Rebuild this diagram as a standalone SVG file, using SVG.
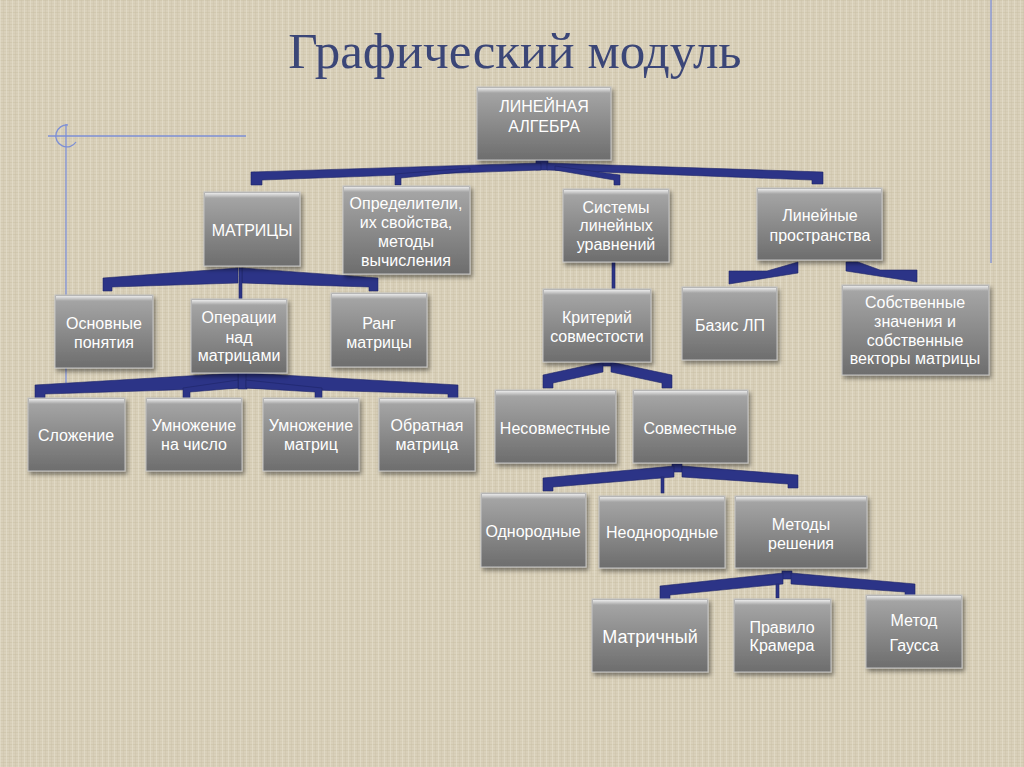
<svg xmlns="http://www.w3.org/2000/svg" width="1024" height="767" viewBox="0 0 1024 767">
<defs>
<pattern id="linen" width="6" height="6" patternUnits="userSpaceOnUse">
<rect width="6" height="6" fill="#d9d0ba"/>
<rect x="0" y="0" width="6" height="1" fill="#c9bea3" opacity="0.45"/>
<rect x="0" y="3" width="6" height="1" fill="#cfc5ab" opacity="0.35"/>
<rect x="0" y="0" width="1" height="6" fill="#e8e1cf" opacity="0.5"/>
<rect x="3" y="0" width="1" height="6" fill="#c8bda2" opacity="0.3"/>
</pattern>
<linearGradient id="gbox" x1="0" y1="0" x2="0" y2="1">
<stop offset="0" stop-color="#a9a9a9"/>
<stop offset="0.5" stop-color="#8b8b8b"/>
<stop offset="1" stop-color="#6d6d6d"/>
</linearGradient>
<linearGradient id="gbev" x1="0" y1="0" x2="0" y2="1">
<stop offset="0" stop-color="#ffffff" stop-opacity="0.75"/>
<stop offset="1" stop-color="#ffffff" stop-opacity="0"/>
</linearGradient>
<filter id="sh" x="-10%" y="-10%" width="130%" height="140%">
<feDropShadow dx="2" dy="3" stdDeviation="2" flood-color="#000" flood-opacity="0.45"/>
</filter>
<style>
.box{fill:url(#gbox);stroke:#c4c4c4;stroke-width:1;filter:url(#sh)}
.bev{fill:url(#gbev)}
.lbl{font-family:"Liberation Sans",Arial,sans-serif;font-size:16px;fill:#ffffff;text-anchor:middle}
.con{fill:#2c3487;stroke:#1f2568;stroke-width:0.6}
.deco{stroke:#7d8fd6;stroke-width:1.3;fill:none}
.title{font-family:"Liberation Serif","Times New Roman",serif;font-size:51px;fill:#3b4677;text-anchor:middle}
</style>
</defs>
<rect width="1024" height="767" fill="url(#linen)"/>

<g id="decor">
<line class="deco" x1="48" y1="136" x2="246" y2="136"/>
<line class="deco" x1="66" y1="124" x2="66" y2="383"/>
<path class="deco" d="M 68 125 A 11 11 0 1 0 76 142"/>
<line class="deco" x1="991" y1="0" x2="991" y2="263"/>
</g>

<text class="title" x="515" y="68">Графический модуль</text>

<g id="connectors">
<rect class="con" x="536" y="158" width="12" height="12"/>
<polygon class="con" points="541,163 251,172 251,185 262,185 262,180 541,170"/>
<polygon class="con" points="470,168 395,174 395,185 401,185 401,178 470,171"/>
<polygon class="con" points="547,163 823,172 823,184 812,184 812,180 547,170"/>
<polygon class="con" points="555,166 620,175 620,185 614,185 614,180 555,170"/>

<polygon class="con" points="238,268 103,278 103,291 112,291 112,287 238,283"/>
<polygon class="con" points="242,268 378,278 378,291 369,291 369,287 242,283"/>
<rect class="con" x="239" y="268" width="3" height="31"/>

<rect class="con" x="238" y="372" width="9" height="17"/>
<polygon class="con" points="238,373 35,385 35,398 45,398 45,394 238,388"/>
<polygon class="con" points="246,373 458,385 458,398 448,398 448,394 246,388"/>
<polygon class="con" points="238,380 183,388 183,398 190,398 190,392 238,388"/>
<polygon class="con" points="246,380 322,388 322,398 315,398 315,392 246,388"/>

<rect class="con" x="612" y="262" width="3" height="27"/>

<rect class="con" x="601" y="358" width="12" height="8"/>
<polygon class="con" points="603,362 543,375 543,388 553,388 553,383 603,372"/>
<polygon class="con" points="611,362 672,375 672,388 662,388 662,383 611,372"/>

<polygon class="con" points="798,262 798,273 729,284 729,271 767,271"/>
<polygon class="con" points="846,262 858,262 880,270 917,270 917,282 846,271"/>

<rect class="con" x="672" y="464" width="10" height="8"/>
<polygon class="con" points="674,466 543,478 543,491 553,491 553,487 674,477"/>
<rect class="con" x="661" y="477" width="3" height="16"/>
<polygon class="con" points="682,466 798,475 798,488 788,488 788,484 682,477"/>

<rect class="con" x="782" y="571" width="10" height="8"/>
<polygon class="con" points="783,573 660,586 660,599 670,599 670,595 783,584"/>
<rect class="con" x="776" y="584" width="3" height="14"/>
<polygon class="con" points="791,573 915,584 915,596 905,596 905,592 791,584"/>
</g>

<g id="n-la"><rect class="box" x="477" y="87" width="134" height="73"/><rect class="bev" x="478" y="88" width="132" height="5"/>
<text class="lbl" x="544" y="112">ЛИНЕЙНАЯ</text><text class="lbl" x="544" y="132">АЛГЕБРА</text></g>

<g id="n-matr"><rect class="box" x="204" y="192" width="96" height="74"/><rect class="bev" x="205" y="193" width="94" height="5"/>
<text class="lbl" x="252" y="236">МАТРИЦЫ</text></g>

<g id="n-opr"><rect class="box" x="343" y="186" width="127" height="88"/><rect class="bev" x="344" y="187" width="125" height="5"/>
<text class="lbl" x="406" y="209">Определители,</text><text class="lbl" x="406" y="228">их свойства,</text><text class="lbl" x="406" y="247">методы</text><text class="lbl" x="406" y="266">вычисления</text></g>

<g id="n-sys"><rect class="box" x="563" y="189" width="106" height="73"/><rect class="bev" x="564" y="190" width="104" height="5"/>
<text class="lbl" x="616" y="213">Системы</text><text class="lbl" x="616" y="231">линейных</text><text class="lbl" x="616" y="250">уравнений</text></g>

<g id="n-lp"><rect class="box" x="757" y="188" width="125" height="72"/><rect class="bev" x="758" y="189" width="123" height="5"/>
<text class="lbl" x="820" y="221">Линейные</text><text class="lbl" x="820" y="241">пространства</text></g>

<g id="n-osn"><rect class="box" x="55" y="295" width="98" height="73"/><rect class="bev" x="56" y="296" width="96" height="5"/>
<text class="lbl" x="104" y="329">Основные</text><text class="lbl" x="104" y="348">понятия</text></g>

<g id="n-oper"><rect class="box" x="191" y="299" width="96" height="74"/><rect class="bev" x="192" y="300" width="94" height="5"/>
<text class="lbl" x="239" y="323">Операции</text><text class="lbl" x="239" y="343">над</text><text class="lbl" x="239" y="361">матрицами</text></g>

<g id="n-rang"><rect class="box" x="331" y="293" width="96" height="74"/><rect class="bev" x="332" y="294" width="94" height="5"/>
<text class="lbl" x="379" y="329">Ранг</text><text class="lbl" x="379" y="348">матрицы</text></g>

<g id="n-krit"><rect class="box" x="543" y="289" width="108" height="73"/><rect class="bev" x="544" y="290" width="106" height="5"/>
<text class="lbl" x="597" y="323">Критерий</text><text class="lbl" x="597" y="342">совместости</text></g>

<g id="n-bazis"><rect class="box" x="682" y="287" width="95" height="73"/><rect class="bev" x="683" y="288" width="93" height="5"/>
<text class="lbl" x="730" y="331">Базис ЛП</text></g>

<g id="n-sobst"><rect class="box" x="842" y="285" width="147" height="90"/><rect class="bev" x="843" y="286" width="145" height="5"/>
<text class="lbl" x="915" y="308">Собственные</text><text class="lbl" x="915" y="327">значения и</text><text class="lbl" x="915" y="346">собственные</text><text class="lbl" x="915" y="364">векторы матрицы</text></g>

<g id="n-slozh"><rect class="box" x="28" y="398" width="97" height="73"/><rect class="bev" x="29" y="399" width="95" height="5"/>
<text class="lbl" x="76" y="441">Сложение</text></g>

<g id="n-umnch"><rect class="box" x="146" y="398" width="96" height="73"/><rect class="bev" x="147" y="399" width="94" height="5"/>
<text class="lbl" x="194" y="431">Умножение</text><text class="lbl" x="194" y="450">на число</text></g>

<g id="n-umnm"><rect class="box" x="263" y="398" width="96" height="73"/><rect class="bev" x="264" y="399" width="94" height="5"/>
<text class="lbl" x="311" y="431">Умножение</text><text class="lbl" x="311" y="450">матриц</text></g>

<g id="n-obr"><rect class="box" x="379" y="398" width="96" height="73"/><rect class="bev" x="380" y="399" width="94" height="5"/>
<text class="lbl" x="427" y="431">Обратная</text><text class="lbl" x="427" y="450">матрица</text></g>

<g id="n-nesovm"><rect class="box" x="495" y="390" width="121" height="73"/><rect class="bev" x="496" y="391" width="119" height="5"/>
<text class="lbl" x="555" y="434">Несовместные</text></g>

<g id="n-sovm"><rect class="box" x="633" y="390" width="115" height="73"/><rect class="bev" x="634" y="391" width="113" height="5"/>
<text class="lbl" x="690" y="434">Совместные</text></g>

<g id="n-odn"><rect class="box" x="481" y="493" width="105" height="74"/><rect class="bev" x="482" y="494" width="103" height="5"/>
<text class="lbl" x="533" y="537">Однородные</text></g>

<g id="n-neodn"><rect class="box" x="599" y="496" width="126" height="72"/><rect class="bev" x="600" y="497" width="124" height="5"/>
<text class="lbl" x="662" y="538">Неоднородные</text></g>

<g id="n-metody"><rect class="box" x="735" y="496" width="132" height="72"/><rect class="bev" x="736" y="497" width="130" height="5"/>
<text class="lbl" x="801" y="530">Методы</text><text class="lbl" x="801" y="549">решения</text></g>

<g id="n-matrich"><rect class="box" x="592" y="599" width="116" height="73"/><rect class="bev" x="593" y="600" width="114" height="5"/>
<text class="lbl" x="650" y="643" style="font-size:18px">Матричный</text></g>

<g id="n-kramer"><rect class="box" x="734" y="599" width="97" height="73"/><rect class="bev" x="735" y="600" width="95" height="5"/>
<text class="lbl" x="782" y="633">Правило</text><text class="lbl" x="782" y="651">Крамера</text></g>

<g id="n-gauss"><rect class="box" x="866" y="595" width="96" height="73"/><rect class="bev" x="867" y="596" width="94" height="5"/>
<text class="lbl" x="914" y="626">Метод</text><text class="lbl" x="914" y="651">Гаусса</text></g>
</svg>
